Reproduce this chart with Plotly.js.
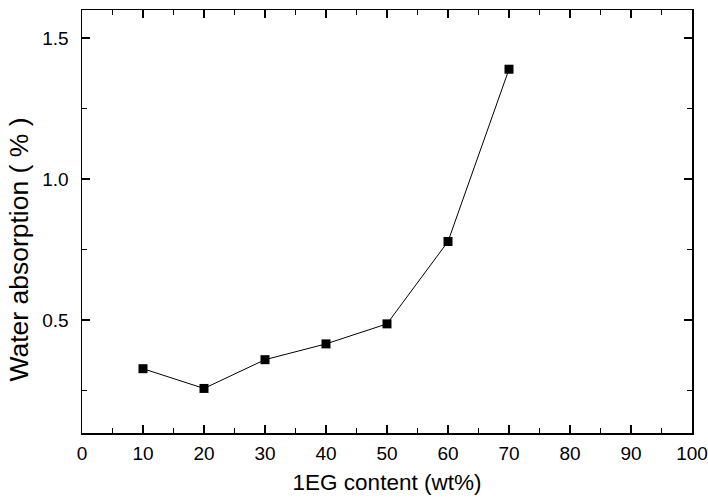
<!DOCTYPE html>
<html><head><meta charset="utf-8">
<script src="https://cdn.plot.ly/plotly-3.0.1.min.js"></script>
<style>html,body{margin:0;padding:0;background:#fff}</style>
</head><body><div id="chart" style="width:708px;height:498px"></div>
<script>
const egContent = [10, 20, 30, 40, 50, 60, 70];
const waterAbsorption = [0.328, 0.258, 0.360, 0.416, 0.487, 0.779, 1.39];
const xTickVals = [0,10,20,30,40,50,60,70,80,90,100];
const yTickVals = [0.5, 1.0, 1.5];
const yTickText = ['0.5','1.0','1.5'];
const xTitle = '1EG content (wt%)';
const yTitle = 'Water absorption ( % )';

const trace = {
  x: egContent, y: waterAbsorption, type: 'scatter', mode: 'lines+markers',
  line: {color: '#000', width: 1},
  marker: {symbol: 'square', size: 9, color: '#000'},
  cliponaxis: false
};
const fam = 'Liberation Sans, Arial, sans-serif';
const layout = {
  width: 708, height: 498,
  margin: {l: 82, r: 16, t: 10, b: 65},
  paper_bgcolor: '#fff', plot_bgcolor: '#fff',
  showlegend: false,
  font: {family: fam, color: '#000'},
  xaxis: {
    range: [0, 100], tickvals: xTickVals, ticks: 'inside', ticklen: 8, tickwidth: 1.5,
    tickcolor: '#000', mirror: 'allticks', showline: true, linecolor: '#000', linewidth: 1.5,
    showgrid: false, zeroline: false, tickfont: {size: 19, family: fam},
    ticklabelstandoff: 3,
    minor: {dtick: 5, ticks: 'inside', ticklen: 5, tickwidth: 1.5, tickcolor: '#000', showgrid: false},
    title: {text: xTitle, font: {size: 22.5, family: fam}, standoff: 11}
  },
  yaxis: {
    range: [0.1, 1.6], tickvals: yTickVals, ticktext: yTickText, ticks: 'inside', ticklen: 8, tickwidth: 1.5,
    tickcolor: '#000', mirror: 'allticks', showline: true, linecolor: '#000', linewidth: 1.5,
    showgrid: false, zeroline: false, tickfont: {size: 19, family: fam},
    ticklabelstandoff: 8,
    minor: {tickvals: [0.25, 0.75, 1.25], ticks: 'inside', ticklen: 5, tickwidth: 1.5, tickcolor: '#000', showgrid: false}
  },
  annotations: [{
    text: yTitle, xref: 'paper', yref: 'paper', x: -0.104, y: 0.4326,
    xanchor: 'center', yanchor: 'middle', textangle: -90, showarrow: false,
    font: {size: 26.5, family: fam, color: '#000'}
  }]
};
Plotly.newPlot('chart', [trace], layout, {displayModeBar: false, staticPlot: true});
</script></body></html>
